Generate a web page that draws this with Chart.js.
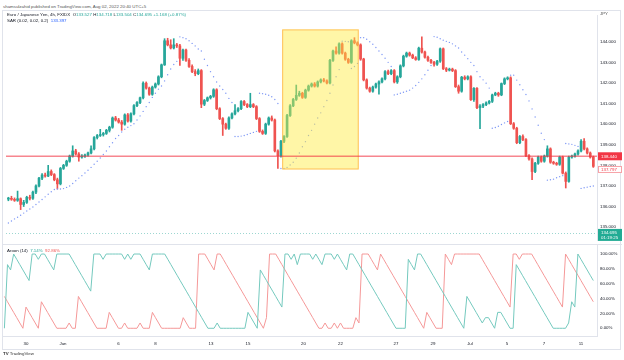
<!DOCTYPE html>
<html>
<head>
<meta charset="utf-8">
<script src="https://cdn.jsdelivr.net/npm/chart.js@4.4.1/dist/chart.umd.min.js"></script>
<style>
  body { margin: 0; width: 624px; height: 360px; overflow: hidden; position: relative; background: #fff;
         font-family: "Liberation Sans", Arial, sans-serif; }
  .t { position: absolute; white-space: nowrap; font-size: 4.4px; line-height: 5px; color: #131722; }
  .frame { position: absolute; left: 2px; top: 10px; width: 619px; height: 340px; border: 1px solid #e0e3eb; box-sizing: border-box; }
  .sep { position: absolute; left: 2px; top: 244px; width: 620px; height: 1px; background: #e0e3eb; }
  canvas { position: absolute; left: 2px; }
  #price { top: 11px; }
  #aroon { top: 244px; }
  .up { color: #26a69a; }
  .dn { color: #ef5350; }
</style>
</head>
<body>
<div class="frame"></div>
<canvas id="price" width="620" height="233"></canvas>
<div class="sep"></div>
<canvas id="aroon" width="620" height="107"></canvas>

<div class="t" style="left:3px;top:3.5px;color:#555;">shamsulzahid published on TradingView.com, Aug 02, 2022 20:40 UTC+5</div>
<div class="t" style="left:7px;top:11.8px;">Euro / Japanese Yen, 4h, FXIDX&nbsp; O<span class="up">133.527</span> H<span class="up">134.718</span> L<span class="up">133.504</span> C<span class="up">134.695</span> <span class="up">+1.168 (+0.87%)</span></div>
<div class="t" style="left:7px;top:17.8px;">SAR (0.02, 0.02, 0.2)&nbsp; <span style="color:#2962ff">133.397</span></div>
<div class="t" style="left:600px;top:11px;color:#555;">JPY</div>
<div class="t" style="left:7px;top:247.5px;">Aroon (14)&nbsp; <span class="up">7.14%</span>&nbsp; <span class="dn">92.86%</span></div>
<div class="t" style="left:3px;top:350.5px;color:#333;"><b>TV</b> TradingView</div>

<script>
// 4h candles: [open, high, low, close]
const candles = [
  [136.36,136.45,136.28,136.40],[136.40,136.50,136.30,136.35],[136.35,136.42,136.25,136.30],[136.30,136.75,136.25,136.38],
  [136.38,136.42,135.85,136.10],[136.10,136.30,136.00,136.20],[136.20,136.50,136.15,136.45],[136.45,136.55,136.32,136.40],
  [136.40,136.75,136.35,136.70],[136.70,137.05,136.62,137.00], // 10
  [137.00,137.42,136.95,137.38],[137.38,137.60,137.30,137.53],[137.53,137.62,137.42,137.48],[137.48,138.00,137.45,137.70],
  [137.70,137.78,137.50,137.55],[137.55,137.60,137.25,137.30],[137.30,137.38,136.85,137.10],[137.10,137.90,137.05,137.85],
  [137.85,138.05,137.80,138.00],[138.00,138.25,137.95,138.20], // 20
  [138.20,138.50,138.15,138.45],[138.45,138.95,138.40,138.70],[138.70,138.78,138.50,138.55],[138.55,138.62,138.20,138.40],
  [138.40,138.52,138.35,138.45],[138.45,138.55,138.38,138.50],[138.50,138.65,138.45,138.60],[138.60,138.95,138.55,138.80],
  [138.80,139.40,138.75,139.35],[139.35,139.50,139.28,139.45], // 30
  [139.45,139.75,139.40,139.50],[139.50,139.60,139.42,139.55],[139.55,139.75,139.50,139.70],[139.70,139.90,139.62,139.85],
  [139.85,140.35,139.80,140.30],[140.30,140.38,140.15,140.20],[140.20,140.28,140.05,140.10],[140.10,140.18,139.70,140.00],
  [140.00,140.50,139.95,140.45],[140.45,140.52,140.10,140.15], // 40
  [140.15,140.55,140.10,140.50],[140.50,140.95,140.45,140.90],[140.90,141.10,140.85,141.05],[141.05,141.32,141.00,141.28],
  [141.28,142.05,141.22,141.99],[141.99,142.05,141.70,141.75],[141.75,141.80,141.40,141.45],[141.45,141.85,141.40,141.80],
  [141.80,142.00,141.75,141.95],[141.95,142.35,141.90,142.30], // 50
  [142.30,142.92,142.25,142.88],[142.88,144.15,142.85,144.05],[144.05,144.17,143.80,143.85],[143.85,144.10,143.65,143.70],
  [143.70,144.15,143.65,143.85],[143.85,143.92,143.72,143.80],[143.80,143.88,142.85,143.20],[143.20,143.65,143.10,143.60],
  [143.60,143.65,143.05,143.10],[143.10,143.18,142.75,142.80], // 60
  [142.80,142.88,142.50,142.55],[142.55,142.65,142.35,142.45],[142.45,142.68,142.40,142.60],[142.60,142.65,140.80,140.97],
  [140.97,141.20,140.90,141.15],[141.15,141.32,141.10,141.28],[141.28,141.40,141.22,141.35],[141.35,141.72,141.30,141.67],
  [141.67,141.72,140.70,140.75],[140.75,140.80,140.22,140.27], // 70
  [140.27,140.32,139.45,140.00],[140.00,140.05,139.75,139.80],[139.80,140.35,139.75,140.30],[140.30,140.55,140.25,140.50],
  [140.50,140.95,140.45,140.65],[140.65,140.80,140.60,140.75],[140.75,141.15,140.70,141.10],[141.10,141.15,140.90,140.95],
  [140.95,141.00,140.80,140.85],[140.85,141.50,140.80,140.95], // 80
  [140.95,141.00,140.80,140.85],[140.85,140.90,140.22,140.27],[140.27,140.32,139.60,139.65],[139.65,139.72,139.50,139.55],
  [139.55,140.05,139.50,140.00],[140.00,140.35,139.95,140.30],[140.30,140.40,140.15,140.20],[140.20,140.25,138.65,138.70],
  [138.70,138.75,137.85,138.47],[138.47,139.22,138.40,139.17], // 90
  [139.17,139.45,139.10,139.40],[139.40,140.48,139.35,140.42],[140.42,140.95,140.38,140.89],[140.89,141.25,140.85,141.20],
  [141.20,141.90,141.15,141.40],[141.40,141.60,141.35,141.50],[141.50,141.55,141.25,141.30],[141.30,141.70,141.25,141.65],
  [141.65,141.90,141.60,141.85],[141.85,142.00,141.80,141.95], // 100
  [141.95,142.02,141.80,141.85],[141.85,142.10,141.80,142.05],[142.05,142.20,142.00,142.15],[142.15,142.22,142.05,142.10],
  [142.10,142.15,141.95,142.00],[142.00,143.15,141.95,143.10],[143.10,143.60,143.05,143.55],[143.55,143.75,143.40,143.45],
  [143.45,143.95,143.40,143.90],[143.90,143.95,143.40,143.45], // 110
  [143.45,143.50,143.10,143.15],[143.15,143.20,142.95,143.00],[143.00,144.10,142.95,144.05],[144.05,144.20,143.90,143.95],
  [143.95,144.00,143.80,143.85],[143.85,143.90,143.10,143.16],[143.16,143.20,142.10,142.15],[142.15,142.20,141.70,141.75],
  [141.75,141.80,141.55,141.60],[141.60,141.85,141.55,141.80], // 120
  [141.80,142.00,141.75,141.95],[141.95,142.10,141.45,142.05],[142.05,142.25,142.00,142.20],[142.20,142.60,142.15,142.55],
  [142.55,142.62,142.40,142.45],[142.45,142.65,142.40,142.60],[142.60,142.65,142.00,142.05],[142.05,142.35,141.98,142.30],
  [142.30,142.88,142.25,142.83],[142.83,143.35,142.78,143.30], // 130
  [143.30,143.50,143.25,143.45],[143.45,143.50,143.30,143.35],[143.35,143.40,143.18,143.22],[143.22,143.28,143.10,143.14],
  [143.14,143.74,143.10,143.69],[143.69,144.24,143.45,143.50],[143.50,143.55,143.20,143.25],[143.25,143.30,143.05,143.10],
  [143.10,143.15,142.95,143.00],[143.00,143.05,142.82,142.91], // 140
  [142.91,143.10,142.85,143.06],[143.06,143.70,143.00,143.66],[143.66,143.70,142.65,142.69],[142.69,142.75,142.55,142.62],
  [142.62,142.72,142.58,142.67],[142.67,142.72,142.55,142.60],[142.60,142.65,141.78,141.82],[141.82,141.90,141.50,141.60],
  [141.60,142.32,141.55,142.28],[142.28,142.35,142.15,142.20], // 150
  [142.20,142.35,142.15,142.30],[142.30,142.35,141.15,141.19],[141.19,141.78,141.10,141.74],[141.74,141.78,140.75,140.80],
  [140.80,140.95,139.78,140.88],[140.88,141.00,140.80,140.95],[140.95,141.08,140.90,141.03],[141.03,141.15,140.98,141.11],
  [141.11,141.46,141.05,141.42],[141.42,141.55,141.38,141.50], // 160
  [141.50,141.55,141.35,141.42],[141.42,142.00,141.38,141.97],[141.97,142.25,141.92,142.20],[142.20,142.30,142.15,142.25],
  [142.25,142.30,139.98,140.02],[140.02,140.08,139.75,139.80],[139.80,139.85,139.05,139.10],[139.10,139.45,139.05,139.40],
  [139.40,139.48,139.20,139.25],[139.25,139.30,138.42,138.47], // 170
  [138.47,138.52,138.25,138.31],[138.31,138.36,137.30,137.70],[137.70,138.15,137.65,138.10],[138.10,138.45,138.05,138.40],
  [138.40,138.45,138.15,138.20],[138.20,138.50,138.15,138.45],[138.45,138.95,138.40,138.80],[138.80,138.85,138.10,138.15],
  [138.15,138.20,138.05,138.10],[138.10,138.15,138.00,138.05], // 180
  [138.05,138.45,138.00,138.40],[138.40,138.45,137.58,137.62],[137.62,137.68,136.90,137.22],[137.22,138.45,137.18,138.40],
  [138.40,138.50,138.35,138.45],[138.45,138.60,138.40,138.55],[138.55,138.75,138.50,138.70],[138.70,139.25,138.65,139.17],
  [139.17,139.30,138.75,138.80],[138.80,138.85,138.55,138.60],[138.60,138.65,138.35,138.40],[138.40,138.45,137.90,137.95]
];

// Parabolic SAR (0.02, 0.02, 0.2), one dot per candle
const sar = [
  135.2,135.3,135.4,135.48,135.58,135.68,135.78,135.88,135.98,136.1,
  136.22,136.34,136.47,136.6,136.72,136.83,136.85,136.85,136.87,136.93,
  137.0,137.12,137.25,137.38,137.5,137.63,137.76,137.9,138.05,138.2,
  138.36,138.53,138.7,138.9,139.1,139.3,139.45,139.62,139.75,139.85,
  139.93,140.02,140.2,140.4,140.62,140.85,141.05,141.3,141.5,141.7,
  141.85,142.1,142.4,142.68,142.9,143.05,144.24,144.2,144.15,144.05,
  143.92,143.8,143.65,143.55,143.15,142.85,142.55,142.3,142.05,141.85,
  141.68,141.5,141.25,141.05,139.4,139.4,139.42,139.45,139.5,139.55,
  139.6,139.65,141.5,141.48,141.45,141.4,141.33,141.2,141.0,137.85,
  137.85,137.9,138.02,138.15,138.35,138.6,138.9,139.15,139.45,139.7,
  140.0,140.3,140.55,140.85,141.15,141.5,141.9,142.3,142.65,144.03,
  144.02,144.0,142.7,142.8,142.95,144.2,144.2,144.12,144.0,143.88,
  143.72,143.55,143.38,143.2,143.0,142.8,141.42,141.45,141.5,141.55,
  141.6,141.65,141.75,141.88,142.03,142.2,142.4,142.62,142.85,144.25,
  144.22,144.15,144.08,144.02,143.97,143.9,143.8,143.7,143.5,143.35,
  143.18,143.0,142.85,142.55,142.3,142.15,141.99,141.75,139.8,139.84,
  139.9,139.98,140.06,140.13,142.38,142.38,142.14,141.91,141.67,141.44,
  141.13,140.74,140.35,139.95,139.56,139.25,137.28,137.3,137.33,137.4,
  137.45,137.5,139.06,139.04,139.02,138.97,138.92,136.88,136.91,136.94,
  136.97,137.0
];

// Aroon (14), in percent
const aroonUp = [
  0,85.71,78.57,100,92.86,85.71,78.57,71.43,64.29,100,
  100,92.86,100,100,92.86,85.71,78.57,100,100,100,
  100,100,92.86,85.71,78.57,71.43,64.29,57.14,50,100,
  100,100,92.86,100,100,100,100,100,100,92.86,
  100,92.86,100,100,100,92.86,85.71,78.57,100,100,
  100,100,100,92.86,85.71,78.57,71.43,64.29,57.14,50,
  42.86,35.71,28.57,21.43,14.29,7.14,0,0,0,7.14,
  0,0,0,0,0,0,0,0,0,21.43,
  14.29,7.14,0,78.57,71.43,64.29,57.14,50,42.86,35.71,
  28.57,100,100,92.86,100,85.71,100,100,100,100,
  92.86,100,92.86,85.71,100,100,100,92.86,100,92.86,
  85.71,78.57,100,100,92.86,85.71,78.57,71.43,64.29,57.14,
  50,42.86,35.71,28.57,21.43,14.29,7.14,0,0,0,
  0,92.86,85.71,78.57,100,100,92.86,85.71,78.57,71.43,
  64.29,57.14,50,42.86,35.71,28.57,21.43,14.29,7.14,0,
  42.86,35.71,28.57,21.43,14.29,7.14,14.29,14.29,7.14,0,
  21.43,21.43,14.29,7.14,0,0,85.71,78.57,71.43,64.29,
  57.14,50,42.86,35.71,28.57,21.43,14.29,7.14,0,0,
  0,0,0,7.14,35.71,28.57,100,92.86,85.71,78.57,
  71.43,64.29
];
const aroonDown = [
  42.86,35.71,28.57,21.43,14.29,7.14,0,28.57,21.43,14.29,
  7.14,0,35.71,28.57,21.43,14.29,7.14,0,0,0,
  0,7.14,0,0,42.86,35.71,28.57,21.43,14.29,7.14,
  0,0,0,0,21.43,14.29,7.14,0,0,7.14,
  0,0,0,0,7.14,0,0,0,21.43,14.29,
  7.14,0,0,0,0,0,0,0,14.29,7.14,
  0,0,0,100,100,100,92.86,85.71,78.57,100,
  100,92.86,85.71,78.57,71.43,64.29,57.14,50,42.86,35.71,
  28.57,21.43,14.29,7.14,0,14.29,100,100,100,92.86,
  85.71,78.57,71.43,64.29,57.14,50,42.86,35.71,28.57,21.43,
  14.29,7.14,0,0,7.14,0,0,7.14,0,7.14,
  0,0,0,0,14.29,7.14,100,100,100,92.86,
  85.71,78.57,100,92.86,85.71,78.57,71.43,64.29,57.14,50,
  42.86,35.71,28.57,21.43,14.29,7.14,0,21.43,14.29,7.14,
  0,0,0,100,92.86,85.71,100,100,100,100,
  100,100,100,100,100,92.86,85.71,78.57,71.43,64.29,
  57.14,50,42.86,35.71,28.57,100,100,92.86,100,100,
  100,100,92.86,85.71,78.57,71.43,64.29,57.14,50,42.86,
  35.71,28.57,100,92.86,85.71,78.57,71.43,64.29,57.14,50,
  42.86,35.71
];

// time axis: candle index of each day label
const dayTicks = [7, 19, 37, 49, 67, 79, 97, 109, 127, 139, 151, 163, 175, 187];
const dayLabels = ["30", "Jun", "6", "8", "13", "15", "20", "22", "27", "29", "Jul", "5", "7", "11"];
const priceTicks = [135, 136, 137, 138, 139, 140, 141, 142, 143, 144];
const aroonTicks = [0, 20, 40, 60, 80, 100];

// drawings
const levelPrice = 138.44;
const lastPrice = 134.695;
const zoneFrom = 89.4, zoneTo = 114.4, zoneHigh = 144.6, zoneLow = 137.8;

const font = "Liberation Sans";
const upColor = "#26a69a";
const downColor = "#ef5350";
const candleColors = candles.map((c) => (c[3] >= c[0] ? upColor : downColor));

const xRange = { min: -0.78, max: 192.2 };

function axisTag(ctx, left, yMid, h, text, fill, stroke, color) {
  ctx.fillStyle = fill;
  ctx.fillRect(left, yMid - h / 2, 24, h);
  if (stroke) {
    ctx.strokeStyle = stroke;
    ctx.lineWidth = 1;
    ctx.strokeRect(left + 0.5, yMid - h / 2 + 0.5, 23, h - 1);
  }
  ctx.fillStyle = color;
  ctx.font = "4.4px " + font;
  ctx.textBaseline = "middle";
  ctx.textAlign = "left";
  ctx.fillText(text, left + 3, yMid + 0.3);
}

const drawings = {
  id: "drawings",
  afterDatasetsDraw(chart) {
    const { ctx, chartArea, scales } = chart;
    const x = scales.x, y = scales.y;
    ctx.save();
    // highlighted zone
    const x0 = x.getPixelForValue(zoneFrom), x1 = x.getPixelForValue(zoneTo);
    const y0 = y.getPixelForValue(zoneHigh), y1 = y.getPixelForValue(zoneLow);
    ctx.fillStyle = "rgba(255, 235, 59, 0.45)";
    ctx.fillRect(x0, y0, x1 - x0, y1 - y0);
    ctx.strokeStyle = "rgba(255, 183, 77, 0.85)";
    ctx.lineWidth = 1;
    ctx.strokeRect(x0 + 0.5, y0 + 0.5, x1 - x0 - 1, y1 - y0 - 1);
    // horizontal level
    const ly = y.getPixelForValue(levelPrice);
    ctx.strokeStyle = "rgba(242, 54, 69, 0.6)";
    ctx.lineWidth = 1.5;
    ctx.beginPath();
    ctx.moveTo(chartArea.left, ly);
    ctx.lineTo(chartArea.right, ly);
    ctx.stroke();
    // last price line
    const py = y.getPixelForValue(lastPrice);
    ctx.strokeStyle = "rgba(38, 166, 154, 0.45)";
    ctx.lineWidth = 1;
    ctx.setLineDash([1, 2]);
    ctx.beginPath();
    ctx.moveTo(chartArea.left, Math.round(py) + 0.5);
    ctx.lineTo(chartArea.right, Math.round(py) + 0.5);
    ctx.stroke();
    ctx.restore();
  },
  afterDraw(chart) {
    const { ctx, chartArea, scales } = chart;
    const y = scales.y;
    const left = chartArea.right + 1;
    ctx.save();
    axisTag(ctx, left, y.getPixelForValue(levelPrice), 8, "138.440", "#f23645", null, "#fff");
    axisTag(ctx, left, y.getPixelForValue(zoneLow), 7, "137.797", "#fff", "#f7a1a6", "#f23645");
    // last price with bar countdown
    const py = y.getPixelForValue(lastPrice);
    ctx.fillStyle = "#22ab94";
    ctx.fillRect(left, py - 4.5, 24, 12);
    ctx.fillStyle = "#fff";
    ctx.font = "4.4px " + font;
    ctx.textBaseline = "middle";
    ctx.fillText("134.695", left + 3, py - 0.6);
    ctx.fillText("01:19:25", left + 3, py + 4.2);
    ctx.restore();
  }
};

new Chart(document.getElementById("price"), {
  type: "bar",
  data: {
    datasets: [
      {
        label: "wick",
        data: candles.map((c, i) => ({ x: i, y: [c[2], c[1]] })),
        backgroundColor: candleColors,
        barThickness: 1,
        grouped: false,
        order: 2
      },
      {
        label: "body",
        data: candles.map((c, i) => ({ x: i, y: [c[0], c[3]] })),
        backgroundColor: candleColors,
        barThickness: 2,
        minBarLength: 1,
        grouped: false,
        order: 1
      },
      {
        type: "line",
        label: "SAR",
        data: sar.map((v, i) => ({ x: i, y: v })),
        showLine: false,
        pointRadius: 0.7,
        pointBorderWidth: 0,
        pointBackgroundColor: "#7d97f5",
        order: 0
      }
    ]
  },
  options: {
    responsive: false,
    animation: false,
    events: [],
    layout: { padding: 0 },
    plugins: { legend: { display: false }, tooltip: { enabled: false } },
    scales: {
      x: { type: "linear", min: xRange.min, max: xRange.max, offset: false, display: false },
      y: {
        position: "right",
        min: 134.375,
        max: 145.3,
        afterBuildTicks: (s) => { s.ticks = priceTicks.map((v) => ({ value: v })); },
        afterFit: (s) => { s.width = 25; s.paddingTop = 0; s.paddingBottom = 0; },
        grid: { display: false, drawTicks: false },
        border: { color: "#e0e3eb" },
        ticks: { font: { size: 4.4, family: font }, color: "#131722", padding: 3, callback: (v) => v.toFixed(3) }
      }
    }
  },
  plugins: [drawings]
});

new Chart(document.getElementById("aroon"), {
  type: "line",
  data: {
    datasets: [
      {
        label: "Aroon Up",
        data: aroonUp.map((v, i) => ({ x: i, y: v })),
        borderColor: "#74c9be",
        borderWidth: 1,
        pointRadius: 0,
        tension: 0
      },
      {
        label: "Aroon Down",
        data: aroonDown.map((v, i) => ({ x: i, y: v })),
        borderColor: "#f59898",
        borderWidth: 1,
        pointRadius: 0,
        tension: 0
      }
    ]
  },
  options: {
    responsive: false,
    animation: false,
    events: [],
    layout: { padding: 0 },
    plugins: { legend: { display: false }, tooltip: { enabled: false } },
    scales: {
      x: {
        type: "linear",
        min: xRange.min,
        max: xRange.max,
        offset: false,
        afterBuildTicks: (s) => { s.ticks = dayTicks.map((v) => ({ value: v })); },
        afterFit: (s) => { s.height = 15; },
        grid: { display: false, drawTicks: false },
        border: { color: "#e0e3eb" },
        ticks: {
          autoSkip: false,
          maxRotation: 0,
          padding: 5,
          font: { size: 4.4, family: font },
          color: "#131722",
          callback: (v) => dayLabels[dayTicks.indexOf(v)] || ""
        }
      },
      y: {
        position: "right",
        min: -10.4,
        max: 113.5,
        afterBuildTicks: (s) => { s.ticks = aroonTicks.map((v) => ({ value: v })); },
        afterFit: (s) => { s.width = 25; s.paddingTop = 0; s.paddingBottom = 0; },
        grid: { display: false, drawTicks: false },
        border: { color: "#e0e3eb" },
        ticks: { font: { size: 4.4, family: font }, color: "#131722", padding: 3, callback: (v) => v.toFixed(2) + "%" }
      }
    }
  }
});
</script>
</body>
</html>
